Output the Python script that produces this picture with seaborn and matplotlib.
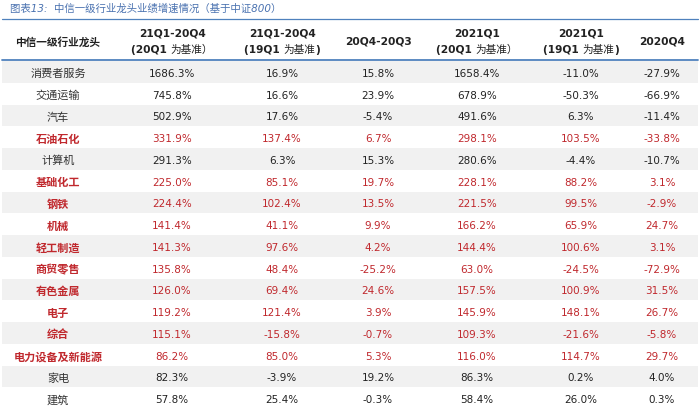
import numpy as np
import matplotlib
matplotlib.use("Agg")
import matplotlib.pyplot as plt
from matplotlib.colors import ListedColormap
from matplotlib.lines import Line2D
import seaborn as sns

sns.set_style("white")
plt.rcParams['font.family'] = ['DejaVu Sans', 'Noto Sans CJK SC']

# data
title = "图表13:  中信一级行业龙头业绩增速情况（基于中证800）"
headers = ["中信一级行业龙头", "21Q1-20Q4", "21Q1-20Q4", "20Q4-20Q3", "2021Q1", "2021Q1", "2020Q4"]
sub_bases = ["", "(20Q1 ", "(19Q1 ", "", "(20Q1 ", "(19Q1 ", ""]
sub_words = ["", "为基准）", "为基准", "", "为基准）", "为基准", ""]
sub_tails = ["", "", ")", "", "", ")", ""]
industries = ["消费者服务", "交通运输", "汽车", "石油石化", "计算机", "基础化工", "钢铁", "机械",
              "轻工制造", "商贸零售", "有色金属", "电子", "综合", "电力设备及新能源", "家电", "建筑"]
q1_vs_q4_20 = [1686.3, 745.8, 502.9, 331.9, 291.3, 225.0, 224.4, 141.4, 141.3, 135.8, 126.0, 119.2, 115.1, 86.2, 82.3, 57.8]
q1_vs_q4_19 = [16.9, 16.6, 17.6, 137.4, 6.3, 85.1, 102.4, 41.1, 97.6, 48.4, 69.4, 121.4, -15.8, 85.0, -3.9, 25.4]
q4_vs_q3 = [15.8, 23.9, -5.4, 6.7, 15.3, 19.7, 13.5, 9.9, 4.2, -25.2, 24.6, 3.9, -0.7, 5.3, 19.2, -0.3]
q1_2021_20 = [1658.4, 678.9, 491.6, 298.1, 280.6, 228.1, 221.5, 166.2, 144.4, 63.0, 157.5, 145.9, 109.3, 116.0, 86.3, 58.4]
q1_2021_19 = [-11.0, -50.3, 6.3, 103.5, -4.4, 88.2, 99.5, 65.9, 100.6, -24.5, 100.9, 148.1, -21.6, 114.7, 0.2, 26.0]
q4_2020 = [-27.9, -66.9, -11.4, -33.8, -10.7, 3.1, -2.9, 24.7, 3.1, -72.9, 31.5, 26.7, -5.8, 29.7, 4.0, 0.3]
highlight = [False, False, False, True, False, True, True, True,
             True, True, True, True, True, True, False, False]

columns = [q1_vs_q4_20, q1_vs_q4_19, q4_vs_q3, q1_2021_20, q1_2021_19, q4_2020]

# layout
W, H = 700, 410
col_x = [58, 172, 282, 378, 477, 581, 662]
top_line, head_line, body_top = 20, 61, 62
red = '#c0282d'
dark = '#222222'
blue = '#4f81bd'

fig = plt.figure(figsize=(7, 4.1), dpi=100)
ax = fig.add_axes([0.003, 0, 0.994, (H - body_top) / H])

stripes = np.array([[1 - i % 2] for i in range(len(industries))])
sns.heatmap(stripes, ax=ax, cmap=ListedColormap(['white', '#f1f1f1']), cbar=False,
            xticklabels=False, yticklabels=False, vmin=0, vmax=1)

tr = matplotlib.transforms.blended_transform_factory(fig.transFigure, ax.transData)
for i, name in enumerate(industries):
    c = red if highlight[i] else '#333333'
    ax.text(col_x[0] / W, i + 0.55, name, transform=tr, ha='center', va='center',
            fontsize=8, color=c, fontweight='bold' if highlight[i] else 'normal',
            family=['Noto Sans CJK SC'])
    for j, col in enumerate(columns):
        ax.text(col_x[j + 1] / W, i + 0.55, f"{col[i]:.1f}%", transform=tr, ha='center',
                va='center', fontsize=7.5, color=red if highlight[i] else dark)

# header
renderer = fig.canvas.get_renderer()
for j, h in enumerate(headers):
    if not sub_bases[j]:
        fig.text(col_x[j] / W, 1 - 42 / H, h, ha='center', va='center',
                 fontsize=7.7, fontweight='bold', color=dark)
        continue
    fig.text(col_x[j] / W, 1 - 33 / H, h, ha='center', va='center',
             fontsize=7.7, fontweight='bold', color=dark)
    # bold latin parts + regular CJK part, centred together
    parts = [(sub_bases[j], 'bold'), (sub_words[j], 'normal'), (sub_tails[j], 'bold')]
    texts = [fig.text(0, 1 - 50 / H, s, ha='left', va='center', fontsize=7.7,
                      fontweight=wt, color=dark) for s, wt in parts if s]
    widths = [t.get_window_extent(renderer).width for t in texts]
    x = col_x[j] - sum(widths) / 2
    for t, w in zip(texts, widths):
        t.set_x(x / W)
        x += w

fig.add_artist(Line2D([0.003, 0.997], [1 - top_line / H] * 2, transform=fig.transFigure,
                      color=blue, lw=0.9))
fig.add_artist(Line2D([0.003, 0.997], [1 - head_line / H] * 2, transform=fig.transFigure,
                      color=blue, lw=1.3))

fig.text(10 / W, 1 - 9 / H, title, ha='left', va='center', fontsize=7.5,
         color='#4a72b0', style='italic')

fig.savefig("out.png", dpi=100)
